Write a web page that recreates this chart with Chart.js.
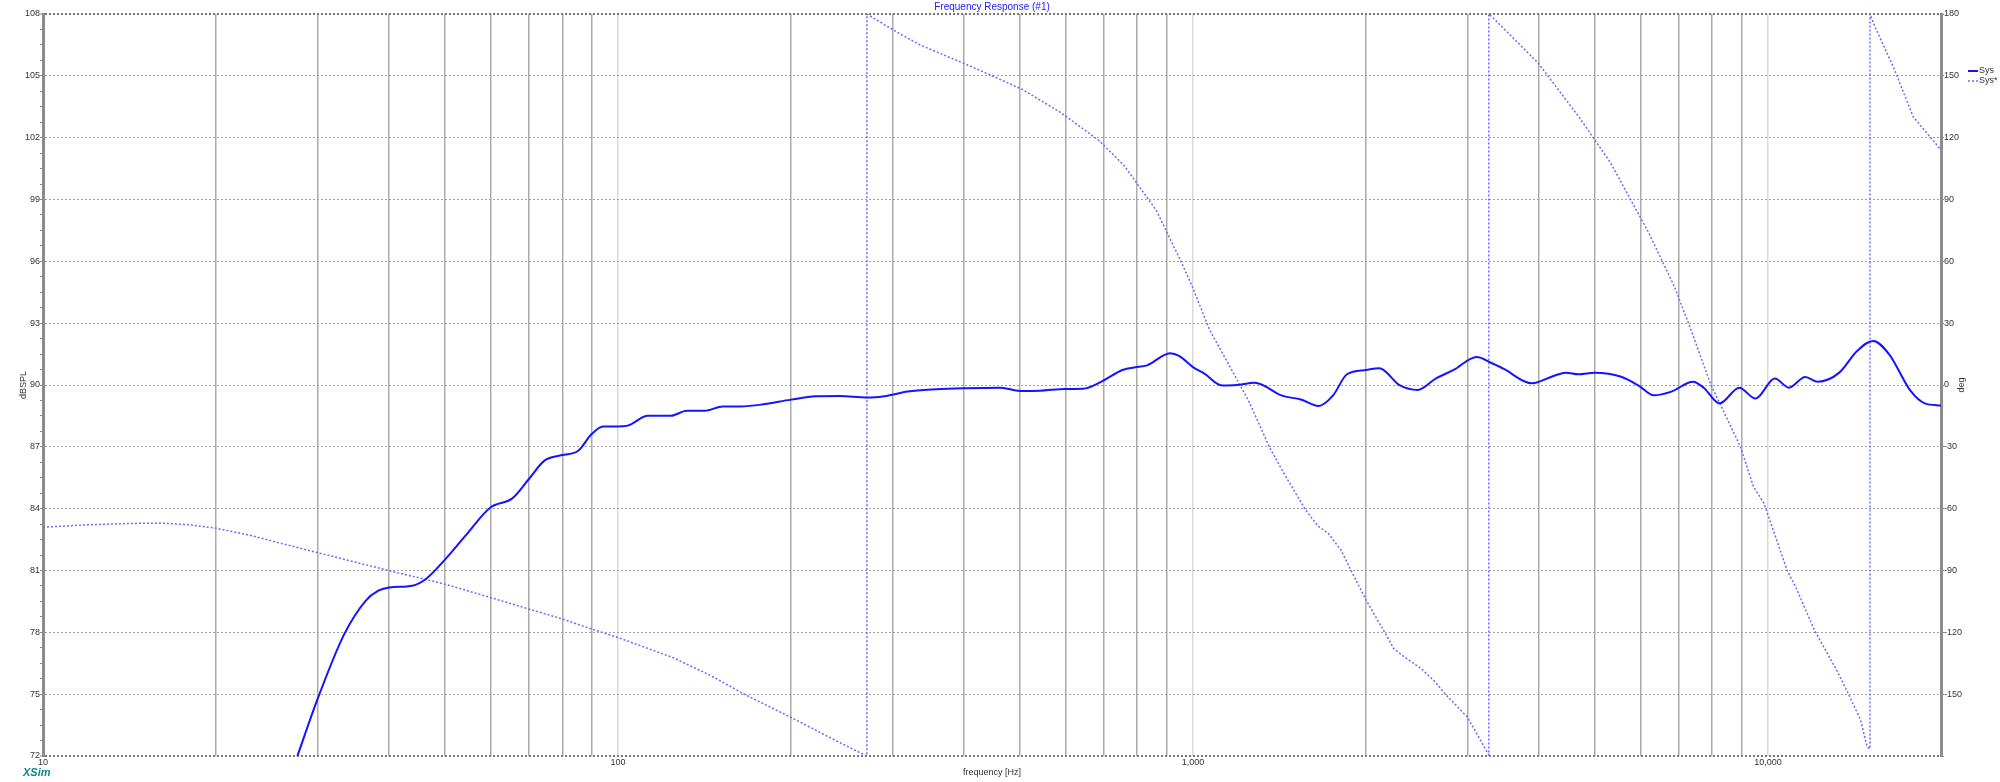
<!DOCTYPE html>
<html>
<head>
<meta charset="utf-8">
<title>Frequency Response (#1)</title>
<script src="https://cdn.jsdelivr.net/npm/chart.js@4.4.1/dist/chart.umd.min.js"></script>
<style>
  html, body { margin: 0; padding: 0; background: #fff; }
  #wrap { width: 2000px; height: 782px; position: relative; }
</style>
</head>
<body>
<div id="wrap"><canvas id="frChart"></canvas></div>
<script>
// magnitude (Sys) - frequency in Hz, level in dBSPL
const splFreq = [27.7, 30.1, 33.4, 36.4, 38.3, 40, 43.9, 46.4, 50.1, 54.3, 60, 65.5, 70, 74.5, 80, 85.3, 90, 94.2, 100, 104,
  112.7, 123.6, 131.8, 141.5, 152.1, 163.3, 178, 200, 220.8, 243, 271, 293, 319, 358, 400, 463, 500, 542, 600, 644,
  692, 754, 800, 832, 913, 946, 1000, 1047, 1124, 1191, 1280, 1433, 1540, 1653, 1750, 1853, 2000, 2109, 2291, 2460,
  2643, 2839, 3116, 3299, 3467, 3887, 4238, 4454, 4684, 4993, 5558, 5975, 6324, 6795, 7408, 7733, 8242, 8918, 9510, 10280,
  10880, 11610, 12210, 13310, 14290, 15240, 16250, 17710, 18740, 20000];
const splDb = [72, 74.84, 77.9, 79.53, 80.02, 80.18, 80.26, 80.6, 81.55, 82.69, 84.06, 84.5, 85.44, 86.33, 86.6, 86.81, 87.62, 87.99, 87.99, 88.03,
  88.51, 88.51, 88.75, 88.75, 88.96, 88.96, 89.05, 89.29, 89.45, 89.47, 89.39, 89.47, 89.68, 89.79, 89.84, 89.87, 89.71, 89.72, 89.81, 89.82,
  90.15, 90.73, 90.87, 90.95, 91.54, 91.41, 90.87, 90.55, 89.98, 90.0, 90.11, 89.47, 89.3, 88.98, 89.47, 90.52, 90.73, 90.81, 89.98, 89.76,
  90.31, 90.73, 91.36, 91.08, 90.79, 90.08, 90.44, 90.6, 90.52, 90.6, 90.4, 89.95, 89.5, 89.68, 90.16, 89.87, 89.11, 89.87, 89.34, 90.31,
  89.87, 90.39, 90.16, 90.6, 91.65, 92.14, 91.49, 89.71, 89.11, 89.01];

// phase (Sys*) - frequency in Hz, phase in degrees (wrapped)
const phaseFreq = [10, 12, 14, 16, 18, 20, 23, 25.8, 30, 35, 40, 50, 60, 70, 80, 90, 100, 124.5, 145, 165.8,
  200, 243, 271, 271, 300, 335, 411, 505, 588, 686, 760, 864, 953, 1000, 1069, 1248, 1359, 1429, 1567, 1649,
  1720, 1809, 1887, 2000, 2160, 2233, 2329, 2492, 2620, 2756, 2999, 3270, 3270, 3310, 3988, 4710, 5320, 6200, 6870, 7350,
  7960, 8246, 8969, 9436, 9841, 10263, 10795, 11170, 12045, 13214, 13790, 14500, 14870, 15050, 15050, 15350, 16520, 17890, 20000];
const phaseDeg = [-69, -67.8, -67.2, -67, -67.8, -69.5, -73, -76.7, -81.3, -86, -90.1, -96.6, -103.1, -108.7, -113.5, -118.4, -122.5, -132.2, -141, -150,
  -161.3, -173.5, -180, 180, 172.5, 165, 154.6, 143.4, 132.3, 118.7, 106.3, 84.6, 60, 47, 26.7, -7.3, -30.3, -41.3, -60.3, -68.4,
  -72, -80.1, -90.4, -104.3, -120.5, -127.8, -131.8, -137.5, -143.2, -150.4, -161, -179.5, 180, 178.7, 156.1, 129.4, 108, 74, 48, 26.7,
  0, -8.9, -30.3, -49.3, -57.4, -72, -89.8, -97.9, -118.9, -139.1, -149.6, -162.6, -175.5, -176.5, 180, 173.8, 154.4, 130.2, 114];

// axis ticks
const freqTicks = [10, 20, 30, 40, 50, 60, 70, 80, 90, 100, 200, 300, 400, 500, 600, 700, 800, 900,
  1000, 2000, 3000, 4000, 5000, 6000, 7000, 8000, 9000, 10000, 20000];
const freqLabelled = [10, 100, 1000, 10000];
const dbTicks = [72, 75, 78, 81, 84, 87, 90, 93, 96, 99, 102, 105, 108];
const degTicks = [-180, -150, -120, -90, -60, -30, 0, 30, 60, 90, 120, 150, 180];

const SPL_COLOR = '#1414ff';
const PHASE_COLOR = '#6a6aff';
const FONT = '"Liberation Sans", Arial, sans-serif';

// minor ticks on the dB axis: 4 per 3 dB step
function dbWithMinor() {
  const out = [];
  for (let i = 0; i < dbTicks.length; i++) {
    out.push(dbTicks[i]);
    if (i < dbTicks.length - 1) {
      for (let k = 1; k < 4; k++) out.push(dbTicks[i] + k * 0.75);
    }
  }
  return out;
}

const isMajorDb = v => dbTicks.includes(v);

// titles, legend and logo
const decorations = {
  id: 'decorations',
  afterDraw(chart) {
    const {ctx, chartArea: a} = chart;
    const midX = (a.left + a.right) / 2;
    const midY = (a.top + a.bottom) / 2;
    ctx.save();

    ctx.fillStyle = '#1a1aff';
    ctx.font = '10px ' + FONT;
    ctx.textAlign = 'center';
    ctx.textBaseline = 'middle';
    ctx.fillText('Frequency Response (#1)', midX, 7);

    ctx.fillStyle = '#333';
    ctx.font = '9px ' + FONT;
    ctx.fillText('frequency [Hz]', midX, 773);

    ctx.save();
    ctx.translate(24, midY);
    ctx.rotate(-Math.PI / 2);
    ctx.fillText('dBSPL', 0, 0);
    ctx.restore();

    ctx.save();
    ctx.translate(1962, midY);
    ctx.rotate(-Math.PI / 2);
    ctx.fillText('deg', 0, 0);
    ctx.restore();

    // legend
    ctx.textAlign = 'left';
    chart.data.datasets.forEach((ds, i) => {
      const y = 71 + i * 10;
      ctx.save();
      ctx.strokeStyle = ds.borderColor;
      ctx.lineWidth = i === 0 ? 2 : 1.5;
      ctx.setLineDash(ds.borderDash || []);
      ctx.beginPath();
      ctx.moveTo(1968, y);
      ctx.lineTo(1978, y);
      ctx.stroke();
      ctx.restore();
      ctx.fillStyle = '#333';
      ctx.fillText(ds.label, 1979, y);
    });

    ctx.fillStyle = '#0a8a8a';
    ctx.font = 'italic bold 11px ' + FONT;
    ctx.fillText('XSim', 23, 773);
    ctx.restore();
  }
};

new Chart(document.getElementById('frChart'), {
  type: 'line',
  data: {
    datasets: [
      {
        label: 'Sys',
        data: splFreq.map((f, i) => ({x: f, y: splDb[i]})),
        yAxisID: 'y',
        borderColor: SPL_COLOR,
        borderWidth: 2,
        pointRadius: 0,
        cubicInterpolationMode: 'monotone'
      },
      {
        label: 'Sys*',
        data: phaseFreq.map((f, i) => ({x: f, y: phaseDeg[i]})),
        yAxisID: 'y1',
        borderColor: PHASE_COLOR,
        borderWidth: 1.5,
        borderDash: [2, 2],
        pointRadius: 0,
        tension: 0
      }
    ]
  },
  options: {
    responsive: true,
    maintainAspectRatio: false,
    animation: false,
    layout: {padding: {top: 14, left: 0, right: 0, bottom: 0}},
    plugins: {
      legend: {display: false},
      tooltip: {enabled: false}
    },
    scales: {
      x: {
        type: 'logarithmic',
        min: 10,
        max: 20000,
        afterBuildTicks: s => { s.ticks = freqTicks.map(v => ({value: v})); },
        afterFit: s => { s.height = 26; },
        ticks: {
          autoSkip: false,
          maxRotation: 0,
          padding: 1,
          color: '#333',
          font: {family: FONT, size: 9},
          callback: v => freqLabelled.includes(v) ? v.toLocaleString('en-US') : ''
        },
        grid: {
          drawTicks: false,
          lineWidth: 1.5,
          color: ctx => {
            const v = ctx.tick && ctx.tick.value;
            if (v === 10 || v === 20000) return 'rgba(0,0,0,0)';
            return freqLabelled.includes(v) ? '#dadada' : '#ababab';
          }
        },
        border: {display: false}
      },
      y: {
        position: 'left',
        min: 72,
        max: 108,
        afterBuildTicks: s => { s.ticks = dbWithMinor().map(v => ({value: v})); },
        afterFit: s => { s.width = 43; },
        ticks: {
          autoSkip: false,
          padding: 0,
          color: '#333',
          font: {family: FONT, size: 9},
          callback: v => isMajorDb(v) ? String(v) : ''
        },
        grid: {
          tickLength: 3,
          tickColor: '#888',
          tickWidth: 1,
          color: ctx => {
            const v = ctx.tick && ctx.tick.value;
            if (!isMajorDb(v)) return 'rgba(0,0,0,0)';
            return (v === 72 || v === 108) ? '#777' : '#a0a0a0';
          },
          lineWidth: ctx => {
            const v = ctx.tick && ctx.tick.value;
            return (v === 72 || v === 108) ? 2 : 1;
          }
        },
        border: {display: true, color: '#8c8c8c', width: 3, dash: [2, 2]}
      },
      y1: {
        position: 'right',
        min: -180,
        max: 180,
        afterBuildTicks: s => { s.ticks = degTicks.map(v => ({value: v})); },
        afterFit: s => { s.width = 59; },
        ticks: {
          autoSkip: false,
          padding: 0,
          color: '#333',
          font: {family: FONT, size: 9},
          callback: v => v === -180 ? '' : String(v)
        },
        grid: {
          drawOnChartArea: false,
          tickLength: 3,
          tickColor: '#888'
        },
        border: {display: true, color: '#8c8c8c', width: 3}
      }
    }
  },
  plugins: [decorations]
});
</script>
</body>
</html>
